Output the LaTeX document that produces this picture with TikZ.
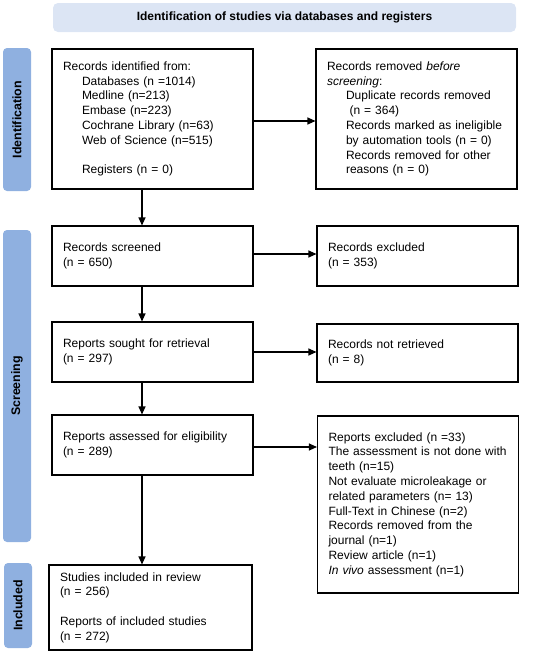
\documentclass[tikz,border=0pt]{standalone}
\usepackage{fontspec}
\setmainfont{Liberation Sans}
\usetikzlibrary{arrows.meta}
\definecolor{lblblue}{RGB}{143,176,224}
\definecolor{banblue}{RGB}{220,229,244}
\begin{document}
\begin{tikzpicture}[x=1pt,y=-1pt,
  box/.style={draw=black, line width=1.1pt, fill=white, rectangle, inner xsep=11pt, inner ysep=0pt,
    align=left, text width=179pt, font=\fontsize{12}{14.8}\selectfont, anchor=center},
  lbl/.style={fill=lblblue, rounded corners=4pt, rotate=90, inner sep=0pt,
    font=\fontsize{12.4}{14}\selectfont\bfseries},
  arr/.style={line width=1.1pt, -{Triangle[length=8pt,width=7pt]}}]
\useasboundingbox (0,0) rectangle (550,653);

\node[fill=banblue, rounded corners=5pt, minimum width=463pt, minimum height=29pt, inner sep=0pt,
  font=\fontsize{12}{14}\selectfont\bfseries] (title) at (284.5,17.5)
  {Identification of studies via databases and registers};

\node[lbl, minimum width=143pt, minimum height=28pt] (lid) at (17,119.5) {Identification};
\node[lbl, minimum width=312pt, minimum height=28pt] (lsc) at (17,386) {Screening};
\node[lbl, minimum width=85pt, minimum height=28pt] (lin) at (18,605.5) {Included};

\node[box, minimum height=140pt] (ident) at (152.5,119) {Records identified from:\\
\hspace*{19pt}Databases (n =1014)\\
\hspace*{19pt}Medline (n=213)\\
\hspace*{19pt}Embase (n=223)\\
\hspace*{19pt}Cochrane Library (n=63)\\
\hspace*{19pt}Web of Science (n=515)\\[14.8pt]
\hspace*{19pt}Registers (n = 0)\par\vspace{4pt}};

\node[box, minimum height=140pt] (removed) at (416.5,119) {Records removed \textit{before}\\
\textit{screening}:\\
\hspace*{19pt}Duplicate records removed\\
\hspace*{22.5pt}(n = 364)\\
\hspace*{19pt}Records marked as ineligible\\
\hspace*{19pt}by automation tools (n = 0)\\
\hspace*{19pt}Records removed for other\\
\hspace*{19pt}reasons (n = 0)\par\vspace{4pt}};

\node[box, minimum height=60pt] (screened) at (152.5,256) {Records screened\\(n = 650)};
\node[box, minimum height=60pt] (excluded) at (417.5,256) {Records excluded\\(n = 353)};

\node[box, minimum height=60pt] (sought) at (152.5,352) {Reports sought for retrieval\\(n = 297)};
\node[box, minimum height=58pt] (notretr) at (417.5,353) {Records not retrieved\\(n = 8)};

\node[box, minimum height=60pt] (assessed) at (152.5,445) {Reports assessed for eligibility\\(n = 289)};
\node[box, minimum height=177pt] (repexcl) at (418,504.5) {Reports excluded (n =33)\\
The assessment is not done with\\
teeth (n=15)\\
Not evaluate microleakage or\\
related parameters (n= 13)\\
Full-Text in Chinese (n=2)\\
Records removed from the\\
journal (n=1)\\
Review article (n=1)\\
\textit{In vivo} assessment (n=1)\par\vspace{15pt}};

\node[box, text width=181pt, minimum height=85pt] (included) at (150.5,607.5) {Studies included in review\\
(n = 256)\\[14.8pt]
Reports of included studies\\
(n = 272)};

\draw[arr] ([yshift=-2pt]ident.east) -- ([yshift=-2pt]ident.east -| removed.west);
\draw[arr] ([yshift=2pt]screened.east) -- ([yshift=2pt]screened.east -| excluded.west);
\draw[arr] (sought.east) -- (sought.east -| notretr.west);
\draw[arr] ([yshift=-2pt]assessed.east) -- ([yshift=-2pt]assessed.east -| repexcl.west);

\draw[arr] ([xshift=-10.5pt]ident.south) -- ([xshift=-10.5pt]ident.south |- screened.north);
\draw[arr] ([xshift=-10.5pt]screened.south) -- ([xshift=-10.5pt]screened.south |- sought.north);
\draw[arr] ([xshift=-10.5pt]sought.south) -- ([xshift=-10.5pt]sought.south |- assessed.north);
\draw[arr] ([xshift=-10.5pt]assessed.south) -- ([xshift=-10.5pt]assessed.south |- included.north);
\end{tikzpicture}
\end{document}
